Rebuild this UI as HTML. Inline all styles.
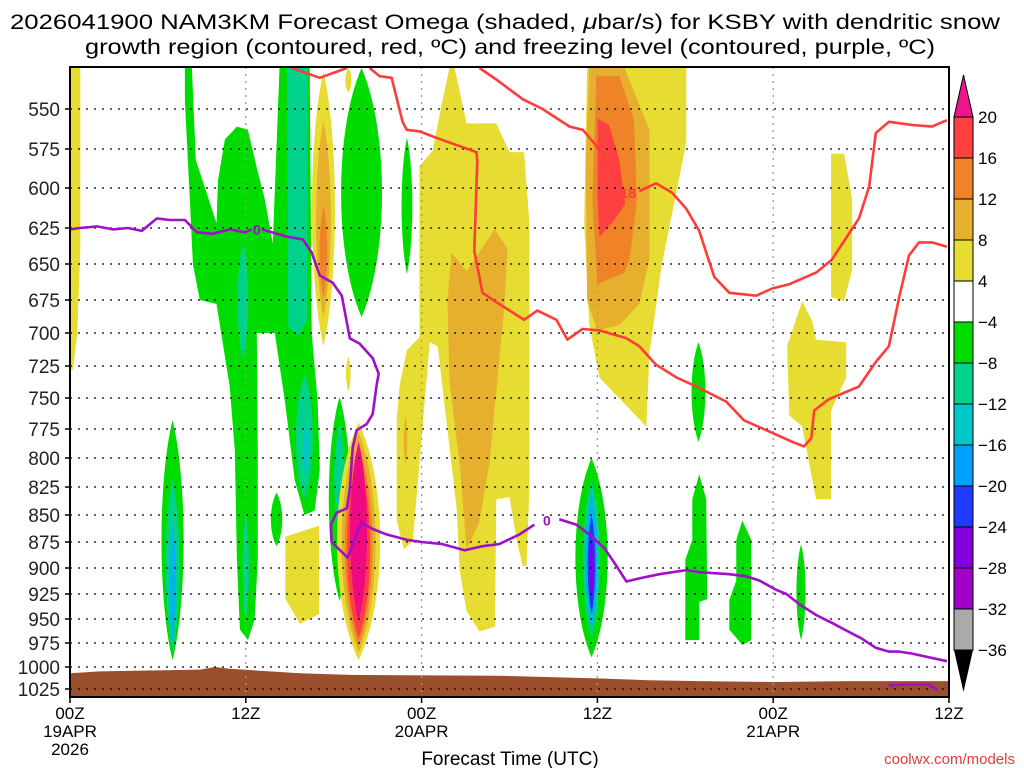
<!DOCTYPE html>
<html><head><meta charset="utf-8">
<style>
html,body{margin:0;padding:0;background:#fff;}
svg{display:block;font-family:"Liberation Sans",sans-serif;}
</style></head>
<body>
<svg id="chart" width="1024" height="768" viewBox="0 0 1024 768">
  <g id="title">
    <text x="505" y="29" font-size="21" text-anchor="middle" textLength="990" lengthAdjust="spacingAndGlyphs">2026041900 NAM3KM Forecast Omega (shaded, <tspan font-style="italic">μ</tspan>bar/s) for KSBY with dendritic snow</text>
    <text x="510" y="54" font-size="21" text-anchor="middle" textLength="850" lengthAdjust="spacingAndGlyphs">growth region (contoured, red, ºC) and freezing level (contoured, purple, ºC)</text>
  </g>
  <g id="plot"></g>
  <g id="axes"></g>
  <g id="cbar"></g>
  <text x="510" y="765" font-size="19" text-anchor="middle">Forecast Time (UTC)</text>
  <text x="1015" y="764" font-size="15" fill="#e03c3c" text-anchor="end">coolwx.com/models</text>
</svg>
<script>
// ---- axis data ----
const tickP = [525,550,575,600,625,650,675,700,725,750,775,800,825,850,875,900,925,950,975,1000,1025,1035];
const tickY = [68,109,149,188,228,264,300,333,366,398,429,458,487,515,542,568,594,619,643,667,689,697];
const yLabels = [550,575,600,625,650,675,700,725,750,775,800,825,850,875,900,925,950,975,1000,1025];
const xTickHours = [0,12,24,36,48,60];
const xTickLabels = ["00Z","12Z","00Z","12Z","00Z","12Z"];
const xDateLabels = ["19APR","","20APR","","21APR",""];
const cbarValues = [20,16,12,8,4,-4,-8,-12,-16,-20,-24,-28,-32,-36];
const cbarColors = ["#ff4040","#f08228","#e6af2d","#e6dc32","#ffffff","#00dc00","#00d28c","#00c8c8","#00a0ff","#1e3cff","#8200dc","#a000c8","#aaaaaa"];

// ---- shaded omega field: polygons [hour, hPa] with colour level ----
const polyLevels = ["Y","Y","O1","Y","Y","O1","O2","R","G","T","Y","Y","G","G","Y","G"];
const polyPoints = [
 [[0,525],[0.7,525],[0.7,640],[0.5,700],[0.2,728],[0,728]],
 [[25.9,525],[26.25,525],[27.07,559],[29.1,559],[30,577],[31,577],[31.36,622],[31.36,827],[31.16,898],[30.9,898],[30.5,874],[30,834],[29.1,836],[29,958],[27.95,963],[27.07,942],[26.6,902],[26.4,845],[25.1,710],[24.55,707],[24.07,773],[23.4,874],[22.8,882],[22.3,855],[22.3,768],[22.5,740],[23,713],[23.86,703],[23.86,586],[24.75,576],[25.4,546]],
 [[26.05,642],[27.07,655],[28.98,626],[29.86,639],[29.66,679],[28.64,803],[27.95,856],[27.07,882],[26.6,805],[25.9,736],[25.77,675]],
 [[35.3,525],[42.07,525],[42.07,571],[40.4,650],[39.55,716],[39.34,773],[36.14,734],[35.45,694],[35.1,622]],
 [[35.3,525],[42.07,525],[42.07,571],[40.4,650],[39.55,716],[39.34,773],[36.14,734],[35.45,694],[35.1,622]],
 [[35.45,525],[37.84,525],[39.55,563],[39.55,607],[39.55,647],[38.86,678],[37.5,694],[36,698],[35.3,675],[35.2,582]],
 [[35.93,530],[37.5,530],[38.5,557],[38.7,607],[38.2,647],[37.84,656],[36,664],[35.66,607]],
 [[36,556],[36.8,560],[37.5,582],[37.84,607],[37.9,610],[37.16,620],[36.14,631],[36,607]],
 [[7.84,525],[8.32,525],[8.59,582],[10.0,622],[10.1,595],[10.57,569],[11.39,561],[12.14,563],[12.8,589],[13.3,607],[13.84,636],[14.3,525],[16.36,525],[16.5,700],[16.9,752],[17.05,810],[16.7,846],[16.0,850],[15.34,819],[14.66,752],[13.98,700],[12.75,700],[12.82,793],[12.82,892],[12.6,951],[12.14,972],[11.6,961],[11.39,892],[11.25,793],[10.9,741],[10.0,678],[8.86,675],[8.39,650],[8.18,607],[7.84,545]],
 [[14.8,525],[16.2,525],[16.2,690],[15.6,702],[14.9,695]],
 [[14.7,870],[17.0,860],[17.0,945],[15.7,955],[14.7,930]],
 [[49.98,676],[50.66,691],[50.93,705],[52.98,707],[52.98,734],[51.95,760],[51.95,836],[50.93,836],[49.98,773],[49.1,764],[48.95,710]],
 [[42.95,814],[43.43,836],[43.5,930],[42.95,933],[42.95,972],[42.0,972],[42.0,892],[42.48,873],[42.48,836]],
 [[45.89,855],[46.5,873],[46.5,972],[45.89,977],[45.0,961],[45.0,931],[45.48,912],[45.48,873]],
 [[51.95,578],[52.84,578],[53.39,607],[53.39,654],[52.84,676],[51.95,673]],
 [[0,0],[0,0],[0,0]]
];
// ---- lens-shaped cells: centre hour, top hPa, bottom hPa, half-width hours ----
const lensLevels = ["T","C","G","T","Y","O1","O2","Y","O1","O2","R","M","G","T","C","G","G","Y","Y","O1","G","T","C","B","V","G","G","G"];
const lensHour   = [11.8,16.0,18.4,18.4,17.3,17.3,17.3,19.7,19.7,19.7,19.7,19.7,7.0,7.0,7.0,19.9,23.0,19.0,19.0,22.9,35.6,35.6,35.6,35.6,35.6,14.1,42.9,49.9];
const lensTop    = [636,753,749,770,527,558,611,770,778,790,800,786,768,818,855,525,568,525,718,765,800,819,830,850,870,830,707,877];
const lensBot    = [720,819,932,870,710,688,673,993,985,978,970,953,993,985,975,688,657,540,745,805,990,970,960,945,935,879,786,972];
const lensWidth  = [0.35,0.2,0.7,0.35,0.75,0.48,0.25,1.4,1.1,0.9,0.75,0.55,0.72,0.45,0.2,1.33,0.35,0.2,0.15,0.12,1.05,0.55,0.4,0.25,0.12,0.37,0.45,0.3];
const extraLensHour = [12.0,16.0]; const extraLensTop=[848,732]; const extraLensBot=[951,836]; const extraLensWidth=[0.2,0.55]; const extraLensLevels=["T","T"];

// ---- contour lines ----
const redA = [[15.14,524],[17.05,531],[18.9,525]];
const redB = [[20.45,525],[21.14,530],[21.95,531],[22.7,558],[22.98,563],[23.86,564],[25.0,568],[27.75,577],[27.8,583],[27.6,641],[28.16,670],[29.3,678],[31.0,690],[31.9,683],[33.2,690],[33.95,705],[34.98,697],[36.14,698],[37.98,704],[38.86,710],[40.0,724],[41.4,734],[42.75,741],[44.8,753],[46.0,768],[47.7,777],[49.3,786],[50.1,790],[50.6,783],[50.8,760],[51.8,751],[53.86,741],[55.0,722],[55.9,710],[56.6,673],[57.27,644],[57.95,635],[58.84,635],[59.86,638]];
const redC1 = [[27.95,524],[29.1,532],[30.9,544],[32.25,550],[34.1,561],[35.0,563],[35.93,573],[36.95,589],[37.4,596]];
const redC2 = [[38.86,602],[40.0,597],[41.1,603],[42.07,613],[42.95,627],[43.43,642],[43.98,659],[45.0,670],[46.84,672],[47.93,667],[49.1,664],[50.93,656],[52.0,647],[53.86,619],[54.55,599],[55.0,565],[55.9,558],[57.48,560],[58.84,561],[59.86,557]];
const purple1 = [[0,626],[0.68,625],[1.84,624],[2.93,626],[3.95,625],[4.9,627],[5.93,619],[6.82,620],[7.84,620],[8.66,628],[9.75,629],[10.9,626],[11.93,628],[12.4,626]];
const purple2 = [[13.1,626],[14.8,631],[15.9,633],[16.5,642],[17.05,658],[17.93,663],[18.55,672],[19.1,704],[19.77,708],[20.66,719],[21.07,731],[20.93,740],[20.66,763],[20.25,771],[19.57,776],[19.3,791],[19.1,827],[18.9,844],[18.2,848],[17.8,859],[17.86,875],[18.95,890],[19.9,857],[20.66,863],[21.6,868],[22.98,873],[24.0,875],[25.43,877],[26.93,883],[28.16,879],[29.3,877],[30.68,868],[31.7,859]];
const purple3 = [[33.4,854],[34.57,859],[35.45,868],[36.48,881],[37.3,898],[37.98,913],[38.86,910],[40.23,906],[42.07,902],[42.95,904],[45.0,906],[46.16,908],[47.05,912],[48.2,921],[48.9,925],[49.77,935],[50.93,946],[52.0,954],[52.98,962],[54.0,970],[55.0,980],[55.9,984],[56.6,984],[57.48,986],[59.86,994]];
const purple4 = [[55.9,1021],[56.9,1020],[58.6,1020],[59.2,1026]];
const terrain = [[0,1007],[2.05,1005],[5.45,1004],[8.86,1003],[9.9,1000],[10.9,1002],[15.7,1007],[19.1,1009],[29.3,1010],[36,1013],[39.5,1015],[43,1016],[48,1017],[53.2,1016],[60,1016]];

const levelColor = {Y:"#e6dc32",O1:"#e6af2d",O2:"#f08228",R:"#ff4040",M:"#f00a82",G:"#00dc00",T:"#00d28c",C:"#00b4e6",LB:"#00a0ff",B:"#1e3cff",V:"#8200dc"};

// ---- axis functions ----
const X0=70, X1=949, Y0=67, Y1=697;
function x(h){ return X0 + h*(X1-X0)/60; }
function y(p){
  if(p<=tickP[0]) return tickY[0];
  for(let i=1;i<tickP.length;i++){
    if(p<=tickP[i]){ const t=(p-tickP[i-1])/(tickP[i]-tickP[i-1]); return tickY[i-1]+t*(tickY[i]-tickY[i-1]); }
  }
  return tickY[tickY.length-1];
}
const NS="http://www.w3.org/2000/svg";
function mk(tag, attrs, parent){ const e=document.createElementNS(NS,tag); for(const k in attrs) e.setAttribute(k,attrs[k]); parent.appendChild(e); return e; }
const plot=document.getElementById('plot'), axes=document.getElementById('axes'), cbar=document.getElementById('cbar');

mk('defs',{},plot).innerHTML='<clipPath id="clip"><rect x="70" y="67" width="879" height="630"/></clipPath>';
const field=mk('g',{'clip-path':'url(#clip)'},plot);



function lensPath(h,pt,pb,w){
  const yt=y(pt), yb=y(pb), xc=x(h), dx=x(w)-x(0), k=1.4*dx;
  const y1=yt+(yb-yt)*0.25, y2=yt+(yb-yt)*0.75;
  return `M${xc},${yt} C${xc+k},${y1} ${xc+k},${y2} ${xc},${yb} C${xc-k},${y2} ${xc-k},${y1} ${xc},${yt}Z`;
}
function polyPath(pts){ return 'M'+pts.map(q=>x(q[0]).toFixed(1)+','+y(q[1]).toFixed(1)).join(' L')+'Z'; }
function linePath(pts){ return 'M'+pts.map(q=>x(q[0]).toFixed(1)+','+y(q[1]).toFixed(1)).join(' L'); }

const drawOrder = [0,1,2,3,5,6,7,8,9,10,11,12,13,14];
drawOrder.forEach(i=>{
  const el=mk('path',{d:polyPath(polyPoints[i]),fill:levelColor[polyLevels[i]]},field);
  
  
});
lensHour.forEach((h,i)=>{
  const el=mk('path',{d:lensPath(h,lensTop[i],lensBot[i],lensWidth[i]),fill:levelColor[lensLevels[i]]},field);
  
  
  if(i===2){ extraLensHour.forEach((eh,j)=>{
    const e2=mk('path',{d:lensPath(eh,extraLensTop[j],extraLensBot[j],extraLensWidth[j]),fill:levelColor[extraLensLevels[j]]},field);
    
    
  });}
});
{ const el=mk('path',{d:lensPath(16.1,770,815,0.18),fill:"#00c8c8"},field);
  
   }

// gridlines
const grid=mk('g',{},plot);


yLabels.forEach(p=>{
  const g=mk('line',{x1:X0,x2:X1,y1:y(p),y2:y(p),stroke:'#000','stroke-width':1.3,'stroke-dasharray':'2,6'},grid);
  
  
});
xTickHours.slice(1,5).forEach(h=>{
  const g=mk('line',{x1:x(h),x2:x(h),y1:Y0,y2:Y1,stroke:'#999','stroke-width':1.3,'stroke-dasharray':'2,5'},grid);
  
  
});

// terrain
{ const pts=terrain.map(q=>x(q[0]).toFixed(1)+','+y(q[1]).toFixed(1)).join(' ');
  const el=mk('polygon',{points:`${X0},${Y1} ${pts} ${X1},${Y1}`,fill:'#9c4f2c'},field);
  
   }

// contour lines
const lines=mk('g',{'clip-path':'url(#clip)',fill:'none','stroke-width':2.6,'stroke-linejoin':'round'},plot);


[[redA,'#ff3c3c','dgz-contour-a'],[redB,'#ff3c3c','dgz-contour-12'],[redC1,'#ff3c3c','dgz-contour-18a'],[redC2,'#ff3c3c','dgz-contour-18b'],
 [purple1,'#a010c8','freezing-level-a'],[purple2,'#a010c8','freezing-level-b'],[purple3,'#a010c8','freezing-level-c'],[purple4,'#a010c8','freezing-level-d']].forEach(d=>{
  const el=mk('path',{d:linePath(d[0]),stroke:d[1]},lines);
  
  
});
[[12.75,626,'0','#a010c8'],[32.55,855,'0','#a010c8'],[38.1,603,'18','#ff3c3c']].forEach(l=>{
  const t=mk('text',{x:x(l[0]),y:y(l[1])+5,'font-size':14,'font-weight':'bold',fill:l[3],'text-anchor':'middle'},plot);
  t.textContent=l[2];
  
  
});

// frame
{ const f=mk('rect',{x:X0,y:Y0,width:X1-X0,height:Y1-Y0,fill:'none',stroke:'#000','stroke-width':2},axes);
  
   }

yLabels.forEach(p=>{
  const t=mk('text',{x:60,y:y(p)+7,'font-size':19,'text-anchor':'end',fill:'#222'},axes);
  t.textContent=p;
  
  
  const tk=mk('line',{x1:X0-5,x2:X0,y1:y(p),y2:y(p),stroke:'#000','stroke-width':1.5},axes);
  
  
});
xTickHours.forEach((h,i)=>{
  const tk=mk('line',{x1:x(h),x2:x(h),y1:Y1,y2:Y1+6,stroke:'#000','stroke-width':1.5},axes);
  
  
  const t=mk('text',{x:x(h),y:719,'font-size':17,'text-anchor':'middle'},axes);
  t.textContent=xTickLabels[i];
  
  
  if(xDateLabels[i]){
    const d=mk('text',{x:x(h),y:737,'font-size':17,'text-anchor':'middle'},axes);
    d.textContent=xDateLabels[i];
    
    
  }
});
{ const t=mk('text',{x:x(0),y:755,'font-size':17,'text-anchor':'middle'},axes);
  t.textContent='2026';
  
   }

// colour bar
const CB0=117, CBH=41, CX=954, CW=19;
{ const a=mk('polygon',{points:`${CX},${CB0} ${CX+CW},${CB0} ${CX+CW/2},${CB0-42}`,fill:'#f0148c',stroke:'#000','stroke-width':1},cbar);
  
   }
cbarColors.forEach((c,i)=>{
  const r=mk('rect',{x:CX,y:CB0+i*CBH,width:CW,height:CBH,fill:c,stroke:'#000','stroke-width':1},cbar);
  
  
});
{ const yb=CB0+cbarColors.length*CBH;
  const a=mk('polygon',{points:`${CX},${yb} ${CX+CW},${yb} ${CX+CW/2},${yb+42}`,fill:'#000'},cbar);
  
   }
cbarValues.forEach((v,i)=>{
  const t=mk('text',{x:978,y:CB0+i*CBH+6,'font-size':17},cbar);
  t.textContent=v<0?'−'+(-v):String(v);
  
  
});
</script>
</body></html>
